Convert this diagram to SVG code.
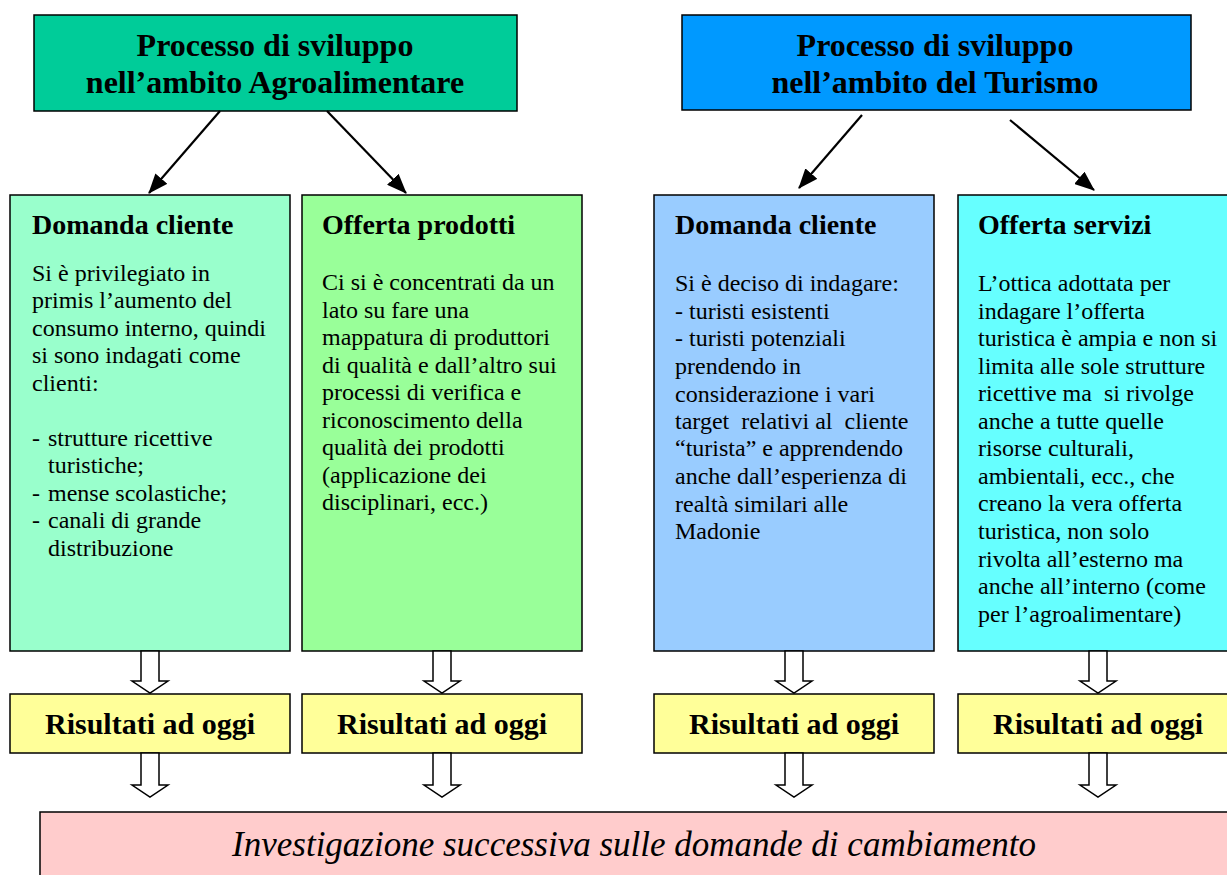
<svg xmlns="http://www.w3.org/2000/svg" width="1227" height="875" viewBox="0 0 1227 875">
<defs>
<style>
.box{stroke:#000;stroke-width:1.5}
.t{font-family:"Liberation Serif","Times New Roman",serif;fill:#000}
.title{font-size:32px;font-weight:bold;text-anchor:middle}
.head{font-size:28px;font-weight:bold}
.body{font-size:24px}
.res{font-size:30px;font-weight:bold;text-anchor:middle}
.inv{font-size:35px;font-style:italic;text-anchor:middle}
.conn line{stroke:#000;stroke-width:2.2}
.hol{fill:#fff;stroke:#000;stroke-width:1.5}
</style>
<marker id="ah" markerWidth="20" markerHeight="16" refX="19" refY="8" orient="auto" markerUnits="userSpaceOnUse" viewBox="0 0 20 16">
<path d="M0,0 L20,8 L0,16 z" fill="#000"/>
</marker>
</defs>
<rect width="1227" height="875" fill="#fff"/>

<g id="agro">
<rect class="box" x="34" y="15" width="483" height="96" fill="#00CC99"/>
<text class="t title" x="275" y="56">Processo di sviluppo</text>
<text class="t title" x="275" y="93">nell’ambito Agroalimentare</text>
</g>
<g id="turismo">
<rect class="box" x="682" y="15" width="509" height="95" fill="#0099FF"/>
<text class="t title" x="935" y="56">Processo di sviluppo</text>
<text class="t title" x="935" y="93">nell’ambito del Turismo</text>
</g>

<g id="domanda1">
<rect class="box" x="10" y="195" width="280" height="456" fill="#99FFCC"/>
<text class="t head" x="32" y="234">Domanda cliente</text>
<text class="t body">
<tspan x="32" y="281">Si è privilegiato in</tspan>
<tspan x="32" y="308">primis l’aumento del</tspan>
<tspan x="32" y="336">consumo interno, quindi</tspan>
<tspan x="32" y="363">si sono indagati come</tspan>
<tspan x="32" y="391">clienti:</tspan>
<tspan x="32" y="446">-</tspan><tspan x="48" y="446">strutture ricettive</tspan>
<tspan x="48" y="473">turistiche;</tspan>
<tspan x="32" y="501">-</tspan><tspan x="48" y="501">mense scolastiche;</tspan>
<tspan x="32" y="528">-</tspan><tspan x="48" y="528">canali di grande</tspan>
<tspan x="48" y="556">distribuzione</tspan>
</text>
</g>

<g id="offerta1">
<rect class="box" x="302" y="195" width="280" height="456" fill="#99FF99"/>
<text class="t head" x="322" y="234">Offerta prodotti</text>
<text class="t body">
<tspan x="322" y="290">Ci si è concentrati da un</tspan>
<tspan x="322" y="318">lato su fare una</tspan>
<tspan x="322" y="345">mappatura di produttori</tspan>
<tspan x="322" y="373">di qualità e dall’altro sui</tspan>
<tspan x="322" y="400">processi di verifica e</tspan>
<tspan x="322" y="428">riconoscimento della</tspan>
<tspan x="322" y="455">qualità dei prodotti</tspan>
<tspan x="322" y="483">(applicazione dei</tspan>
<tspan x="322" y="510">disciplinari, ecc.)</tspan>
</text>
</g>

<g id="domanda2">
<rect class="box" x="654" y="195" width="280" height="456" fill="#99CCFF"/>
<text class="t head" x="675" y="234">Domanda cliente</text>
<text class="t body">
<tspan x="675" y="291">Si è deciso di indagare:</tspan>
<tspan x="675" y="319">- turisti esistenti</tspan>
<tspan x="675" y="346">- turisti potenziali</tspan>
<tspan x="675" y="374">prendendo in</tspan>
<tspan x="675" y="402">considerazione i vari</tspan>
<tspan x="675" y="429">target &#160;relativi al &#160;cliente</tspan>
<tspan x="675" y="456">“turista” e apprendendo</tspan>
<tspan x="675" y="484">anche dall’esperienza di</tspan>
<tspan x="675" y="512">realtà similari alle</tspan>
<tspan x="675" y="539">Madonie</tspan>
</text>
</g>

<g id="offerta2">
<rect class="box" x="958" y="195" width="280" height="456" fill="#66FFFF"/>
<text class="t head" x="978" y="234">Offerta servizi</text>
<text class="t body">
<tspan x="978" y="291">L’ottica adottata per</tspan>
<tspan x="978" y="319">indagare l’offerta</tspan>
<tspan x="978" y="346">turistica è ampia e non si</tspan>
<tspan x="978" y="374">limita alle sole strutture</tspan>
<tspan x="978" y="401">ricettive ma &#160;si rivolge</tspan>
<tspan x="978" y="429">anche a tutte quelle</tspan>
<tspan x="978" y="456">risorse culturali,</tspan>
<tspan x="978" y="484">ambientali, ecc., che</tspan>
<tspan x="978" y="511">creano la vera offerta</tspan>
<tspan x="978" y="539">turistica, non solo</tspan>
<tspan x="978" y="567">rivolta all’esterno ma</tspan>
<tspan x="978" y="594">anche all’interno (come</tspan>
<tspan x="978" y="622">per l’agroalimentare)</tspan>
</text>
</g>

<g id="ris1">
<rect class="box" x="10" y="694" width="280" height="59" fill="#FFFF99"/>
<text class="t res" x="150" y="734">Risultati ad oggi</text>
</g>
<g id="ris2">
<rect class="box" x="302" y="694" width="280" height="59" fill="#FFFF99"/>
<text class="t res" x="442" y="734">Risultati ad oggi</text>
</g>
<g id="ris3">
<rect class="box" x="654" y="694" width="280" height="59" fill="#FFFF99"/>
<text class="t res" x="794" y="734">Risultati ad oggi</text>
</g>
<g id="ris4">
<rect class="box" x="958" y="694" width="280" height="59" fill="#FFFF99"/>
<text class="t res" x="1098" y="734">Risultati ad oggi</text>
</g>

<g id="investigazione">
<rect class="box" x="40" y="812" width="1200" height="70" fill="#FFCCCC"/>
<text class="t inv" x="634" y="856">Investigazione successiva sulle domande di cambiamento</text>
</g>

<g id="connectors" class="conn">
<line x1="220" y1="111" x2="149" y2="193" marker-end="url(#ah)"/>
<line x1="327" y1="111" x2="406" y2="193" marker-end="url(#ah)"/>
<line x1="862" y1="115" x2="799" y2="188" marker-end="url(#ah)"/>
<line x1="1010" y1="120" x2="1094" y2="190" marker-end="url(#ah)"/>
<path class="hol" d="M141,651 L159,651 L159,681 L168,681 L150,693 L132,681 L141,681 z"/>
<path class="hol" d="M433,651 L451,651 L451,681 L460,681 L442,693 L424,681 L433,681 z"/>
<path class="hol" d="M785,651 L803,651 L803,681 L812,681 L794,693 L776,681 L785,681 z"/>
<path class="hol" d="M1089,651 L1107,651 L1107,681 L1116,681 L1098,693 L1080,681 L1089,681 z"/>
<path class="hol" d="M141,753 L159,753 L159,785 L168,785 L150,797 L132,785 L141,785 z"/>
<path class="hol" d="M433,753 L451,753 L451,785 L460,785 L442,797 L424,785 L433,785 z"/>
<path class="hol" d="M785,753 L803,753 L803,785 L812,785 L794,797 L776,785 L785,785 z"/>
<path class="hol" d="M1089,753 L1107,753 L1107,785 L1116,785 L1098,797 L1080,785 L1089,785 z"/>
</g>
</svg>
